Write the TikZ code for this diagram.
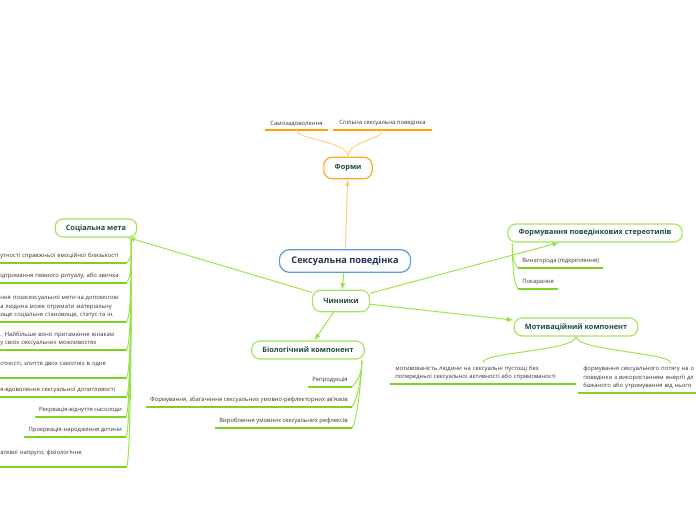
\documentclass[tikz,border=0pt]{standalone}
\usepackage{fontspec}
\setmainfont{Open Sans}
\usetikzlibrary{calc}

\definecolor{rootblue}{HTML}{5B9BD5}
\definecolor{roottext}{HTML}{1C3551}
\definecolor{formborder}{HTML}{FFA726}
\definecolor{formline}{HTML}{FFCF87}
\definecolor{formunder}{HTML}{FFA000}
\definecolor{topicborder}{HTML}{A5E65A}
\definecolor{topicline}{HTML}{9BE34D}
\definecolor{topicunder}{HTML}{7ED321}
\definecolor{topictext}{HTML}{1E4D3B}
\definecolor{leaftext}{HTML}{333333}

\begin{document}
\begin{tikzpicture}[
        x=0.75pt, y=-0.75pt,  % one unit is one pixel of the reference
        >=latex,              % Arrow style
        rootbox/.style={draw=rootblue, line width=0.9pt, rounded corners=7.5pt, fill=white, text=roottext, font=\fontsize{6.9}{8}\selectfont\bfseries, inner xsep=9pt, minimum height=17pt},
        topicbox/.style={draw=topicborder, line width=0.9pt, rounded corners=6pt, fill=white, text=topictext, font=\fontsize{5.5}{7}\selectfont\bfseries, inner xsep=8pt, minimum height=13.5pt},
        formbox/.style={topicbox, draw=formborder, minimum height=16pt},
        leaf/.style={text=leaftext, font=\fontsize{4.4}{6.4}\selectfont, inner xsep=3pt, inner ysep=2.5pt},
        cutleaf/.style={leaf, anchor=south west, align=left, text width=91.5pt},
        wideleaf/.style={leaf, anchor=south west, align=left, inner xsep=3.75pt, text width=131.25pt},
        under/.style={draw=topicunder, line width=1.3pt},
        formunderline/.style={draw=formunder, line width=1.3pt},
        link/.style={draw=topicline, line width=0.75pt},
        formlink/.style={draw=formline, line width=0.75pt}
    ]
    \useasboundingbox (0,0) rectangle (696,520);
    \clip (0,0) rectangle (696,520);

    % Define the main nodes
    \node[rootbox] (root) at (345,261) {Сексуальна поведінка};
    \node[formbox] (forms) at (348,168) {Форми};
    \node[topicbox, minimum height=16pt] (factors) at (341,301) {Чинники};
    \node[topicbox] (social) at (96,228) {Соціальна мета};
    \node[topicbox] (stereo) at (595,233) {Формування поведінкових стереотипів};
    \node[topicbox] (motiv) at (576,327) {Мотиваційний компонент};
    \node[topicbox] (bio) at (308,350) {Біологічний компонент};

    % Arrows between the boxes
    \draw[->, formlink] (root) -- (forms);
    \draw[->, link] (root) -- (factors);
    \draw[->, link] (factors) -- (social);
    \draw[->, link] (factors) -- (stereo);
    \draw[->, link] (factors) -- (motiv);
    \draw[->, link] (factors) -- (bio);

    % Forms
    \node[leaf, anchor=south, minimum width=47.25pt] (self) at (296.5,130) {Самозадоволення};
    \node[leaf, anchor=south, minimum width=74.25pt] (joint) at (382.5,130) {Спільна сексуальна поведінка};
    \draw[formunderline] (self.south west) -- (self.south east);
    \draw[formunderline] (joint.south west) -- (joint.south east);
    \draw[formlink] (forms.north) .. controls +(0,-16) and +(0,10) .. (self.south);
    \draw[formlink] (forms.north) .. controls +(0,-16) and +(0,10) .. (joint.south);

    % Social goal
    \node[cutleaf] (s1) at (-4,263) {утності справжньої емоційної близькості};
    \node[cutleaf] (s2) at (-4,283) {ідтримання певного ритуалу, або звичка};
    \node[cutleaf] (s3) at (-4,322) {ння позасексуальної мети-за допомогою\\а людина може отримати матеріальну\\ище соціальне становище, статус та ін.};
    \node[cutleaf] (s4) at (-4,350) {. Найбільше воно притаманне юнакам\\у своїх сексуальних можливостях};
    \node[cutleaf] (s5) at (-4,378) {отності, злиття двох самотніх в одне\\\mbox{}};
    \node[cutleaf] (s6) at (-4,397) {я-вдоволення сексуальної допитливості};
    \node[leaf, anchor=south east] (s7) at (126,417) {Рекреація-відчуття насолоди};
    \node[leaf, anchor=south east] (s8) at (126,437) {Прокреація-народження дитини};
    \node[cutleaf] (s9) at (-4,467) {атевої напруги, фізіологічне\\\mbox{}};
    \coordinate (socialstem) at ($(social.south east)+(-6,1)$);
    \foreach \s in {s1,s2,s3,s4,s5,s6,s7,s8,s9} {
        \draw[under] (\s.south west) -- (\s.south east);
        \draw[link] (socialstem) .. controls +(0,20) and +(5,-6) .. (\s.south east);
    }

    % Biological component
    \node[leaf, anchor=south east] (b1) at (352,387) {Репродукція};
    \node[leaf, anchor=south east] (b2) at (352,407) {Формування, збагачення сексуальних умовно-рефлекторних зв'язків};
    \node[leaf, anchor=south east] (b3) at (352,428) {Вироблення умовних сексуальних рефлексів};
    \coordinate (biostem) at ($(bio.south east)+(-3,1)$);
    \foreach \b in {b1,b2,b3} {
        \draw[under] (\b.south west) -- (\b.south east);
        \draw[link] (biostem) .. controls +(0,15) and +(5,-6) .. (\b.south east);
    }

    % Behavioural stereotypes
    \node[leaf, anchor=south west] (r1) at (518,268) {Винагорода (підкріплення)};
    \node[leaf, anchor=south west] (r2) at (518,289) {Покарання};
    \coordinate (stereostem) at ($(stereo.south west)+(5,1)$);
    \foreach \r in {r1,r2} {
        \draw[under] (\r.south west) -- (\r.south east);
        \draw[link] (stereostem) .. controls +(0,12) and +(-5,-6) .. (\r.south west);
    }

    % Motivational component
    \node[wideleaf] (m1) at (390,384) {мотивованість людини на сексуальні пустощі без\\попередньої сексуальної активності або спрямованості};
    \node[wideleaf] (m2) at (578,393) {формування сексуального потягу на о\\поведінки з використанням енергії дл\\бажаного або утримування від нього};
    \foreach \m in {m1,m2} {
        \draw[under] (\m.south west) -- (\m.south east);
        \draw[link] (motiv.south) .. controls +(0,14) and +(0,-10) .. (\m.north);
    }
\end{tikzpicture}
\end{document}
